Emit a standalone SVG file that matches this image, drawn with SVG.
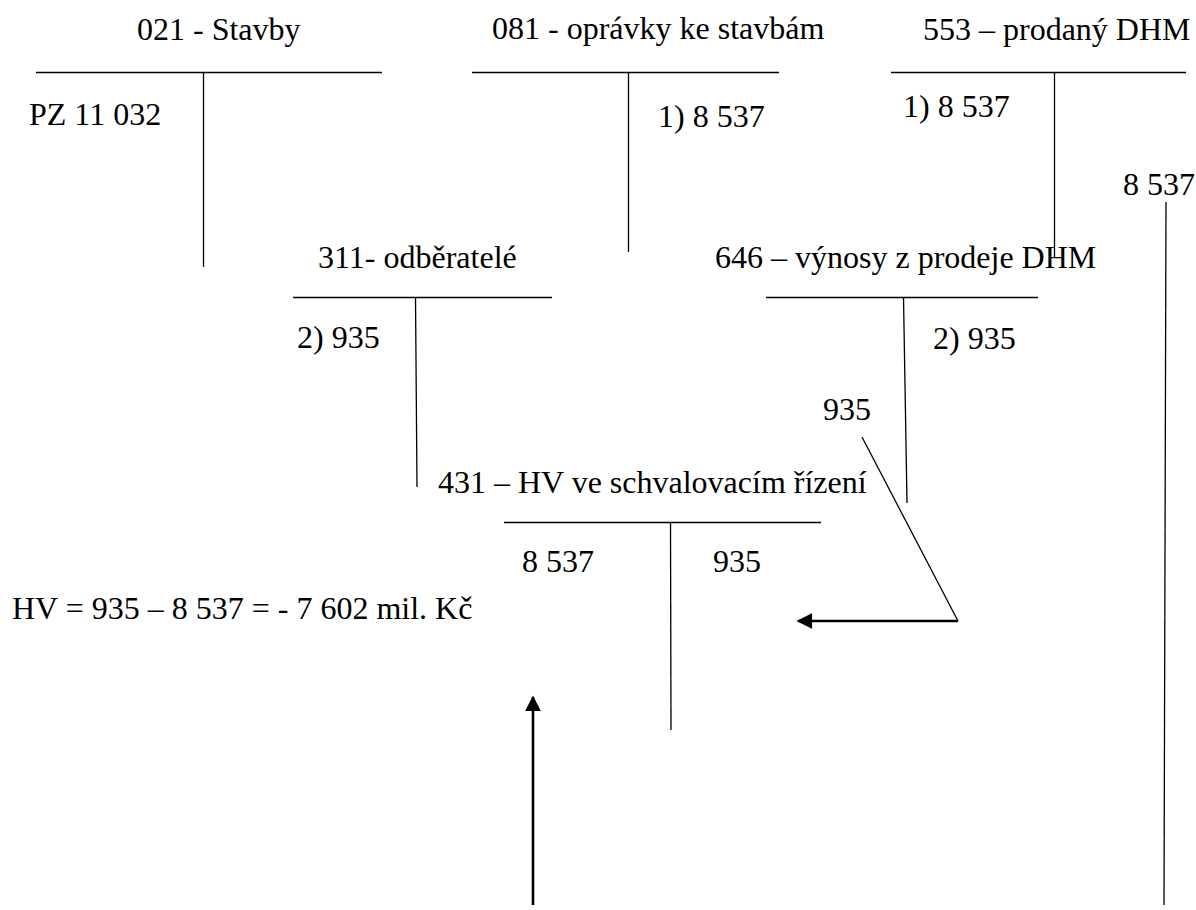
<svg xmlns="http://www.w3.org/2000/svg" width="1196" height="910" viewBox="0 0 1196 910" font-family="Liberation Serif, Tinos, DejaVu Serif, serif">
  <style>
    text { font-family: "Liberation Serif", Tinos, "DejaVu Serif", serif; font-size: 32px; fill: #000; }
    .t { stroke: #000; stroke-width: 1.3; fill: none; }
    .c { stroke: #000; stroke-width: 1.3; fill: none; }
    .a { stroke: #000; stroke-width: 2.6; fill: none; }
  </style>
  <defs>
    <marker id="head" viewBox="0 0 10 10" refX="9" refY="5" markerWidth="6.5" markerHeight="6" markerUnits="strokeWidth" orient="auto">
      <path d="M0,0 L10,5 L0,10 Z" fill="#000"/>
    </marker>
  </defs>
  <rect width="1196" height="910" fill="#fff"/>

  <!-- T-account 021 -->
  <g id="acc-021">
    <text x="137" y="40">021 - Stavby</text>
    <line class="t" x1="36" y1="72.5" x2="382" y2="72.5"/>
    <line class="t" x1="203.5" y1="72" x2="203.5" y2="267"/>
    <text x="29" y="125">PZ 11 032</text>
  </g>

  <!-- T-account 081 -->
  <g id="acc-081">
    <text x="492" y="39">081 - oprávky ke stavbám</text>
    <line class="t" x1="472" y1="72.5" x2="779" y2="72.5"/>
    <line class="t" x1="628.5" y1="72" x2="628.5" y2="252"/>
    <text x="658" y="127">1) 8 537</text>
  </g>

  <!-- T-account 553 -->
  <g id="acc-553">
    <text x="923" y="40">553 – prodaný DHM</text>
    <line class="t" x1="891" y1="72.5" x2="1186" y2="72.5"/>
    <line class="t" x1="1054.5" y1="72" x2="1054.5" y2="258"/>
    <text x="903" y="117">1) 8 537</text>
    <text x="1123" y="195">8 537</text>
  </g>

  <!-- T-account 311 -->
  <g id="acc-311">
    <text x="318" y="268">311- odběratelé</text>
    <line class="t" x1="293" y1="297.5" x2="552" y2="297.5"/>
    <line class="t" x1="415.5" y1="297" x2="417" y2="487"/>
    <text x="297" y="348">2) 935</text>
  </g>

  <!-- T-account 646 -->
  <g id="acc-646">
    <text x="715" y="268">646 – výnosy z prodeje DHM</text>
    <line class="t" x1="766" y1="297.5" x2="1038" y2="297.5"/>
    <line class="t" x1="903.5" y1="297" x2="907" y2="503"/>
    <text x="933" y="349">2) 935</text>
    <text x="823" y="420">935</text>
  </g>

  <!-- T-account 431 -->
  <g id="acc-431">
    <text x="438" y="493">431 – HV ve schvalovacím řízení</text>
    <line class="t" x1="504" y1="522.5" x2="821" y2="522.5"/>
    <line class="t" x1="670.5" y1="522" x2="671" y2="730"/>
    <text x="522" y="572">8 537</text>
    <text x="713" y="572">935</text>
  </g>

  <!-- result -->
  <g id="result">
    <text x="12" y="619">HV = 935 – 8 537 = - 7 602 mil. Kč</text>
  </g>

  <!-- transfers into 431 -->
  <g id="connectors">
    <polyline class="c" points="862,437 958,621"/>
    <line class="a" x1="958" y1="621" x2="798" y2="621" marker-end="url(#head)"/>
    <line class="c" x1="1166" y1="202" x2="1164" y2="905"/>
    <line class="a" x1="533" y1="905" x2="533" y2="697" marker-end="url(#head)"/>
  </g>
</svg>
